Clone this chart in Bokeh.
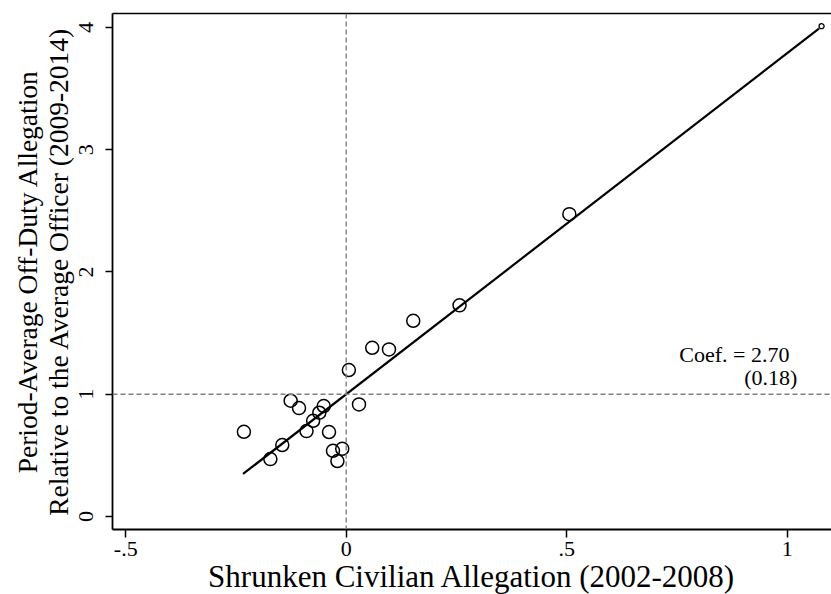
from bokeh.plotting import figure
from bokeh.models import Range1d, LinearAxis, FixedTicker, Span, ColumnDataSource
from bokeh.core.properties import value
from bokeh.embed import file_html
from bokeh.resources import INLINE

# Data
civ_x = [-0.232, -0.172, -0.145, -0.126, -0.107, -0.090, -0.075, -0.061, -0.051,
         -0.039, -0.030, -0.009, -0.020, 0.006, 0.029, 0.059, 0.097, 0.152,
         0.257, 0.506]
off_y = [0.693, 0.470, 0.585, 0.947, 0.887, 0.699, 0.783, 0.849, 0.904,
         0.691, 0.538, 0.554, 0.454, 1.198, 0.917, 1.380, 1.367, 1.601,
         1.727, 2.473]
small_x = [1.078]
small_y = [4.01]
fit_x = [-0.234, 1.072]
fit_y = [0.348, 3.99]

x_ticks = [-0.5, 0, 0.5, 1]
x_tick_labels = {-0.5: "-.5", 0: "0", 0.5: ".5", 1: "1"}
y_ticks = [0, 1, 2, 3, 4]
y_tick_labels = {0: "0", 1: "1", 2: "2", 3: "3", 4: "4"}

coef_text = ["Coef. = 2.70"]
se_text = ["(0.18)"]
coef_pos = ([1.005], [1.329])
se_pos = ([1.023], [1.141])

ref_x = 0
ref_y = 1

FONT = "Liberation Serif"

p = figure(frame_width=719, frame_height=516,
           x_range=Range1d(-0.530, 1.1005), y_range=Range1d(-0.106, 4.114),
           output_backend="svg", toolbar_location=None,
           min_border_left=112, min_border_top=13, min_border_right=0,
           min_border_bottom=65)
p.outline_line_color = None
p.grid.visible = False
p.background_fill_color = "white"
p.border_fill_color = "white"

# x axis
xa = p.xaxis[0]
xa.ticker = FixedTicker(ticks=x_ticks)
xa.major_label_overrides = x_tick_labels
xa.minor_tick_line_color = None
xa.major_tick_out = 8
xa.major_tick_in = 0
xa.major_tick_line_width = 1.5
xa.axis_line_width = 1.8
xa.major_label_text_font = FONT
xa.major_label_text_font_size = "22px"
xa.major_label_text_color = "black"
xa.major_label_standoff = 4
xa.axis_label = "Shrunken Civilian Allegation (2002-2008)"
xa.axis_label_text_font = FONT
xa.axis_label_text_font_size = "31px"
xa.axis_label_text_font_style = "normal"
xa.axis_label_text_color = "black"
xa.axis_label_standoff = 0

# y axis
ya = p.yaxis[0]
ya.ticker = FixedTicker(ticks=y_ticks)
ya.major_label_overrides = y_tick_labels
ya.minor_tick_line_color = None
ya.major_tick_out = 7
ya.major_tick_in = 0
ya.major_tick_line_width = 1.5
ya.axis_line_width = 1.8
ya.major_label_orientation = "vertical"
ya.major_label_text_font = FONT
ya.major_label_text_font_size = "22px"
ya.major_label_text_color = "black"
ya.major_label_standoff = 12
ya.axis_label = "Period-Average Off-Duty Allegation\nRelative to the Average Officer (2009-2014)"
ya.axis_label_text_font = FONT
ya.axis_label_text_font_size = "27.5px"
ya.axis_label_text_font_style = "normal"
ya.axis_label_text_color = "black"
ya.axis_label_text_line_height = 1.0
ya.axis_label_standoff = 3

# top border line
top = LinearAxis(major_tick_line_color=None, minor_tick_line_color=None,
                 major_label_text_font_size="0px", axis_line_width=1.5,
                 major_label_standoff=0, ticker=FixedTicker(ticks=[]))
p.add_layout(top, "above")

# reference lines
p.add_layout(Span(location=ref_x, dimension="height", line_color="#808080",
                  line_dash="5 3", line_width=1.4))
p.add_layout(Span(location=ref_y, dimension="width", line_color="#808080",
                  line_dash="5 3", line_width=1.4))

# fit line
p.line(fit_x, fit_y, line_color="black", line_width=2.2)

# points
src = ColumnDataSource(dict(x=civ_x, y=off_y))
p.scatter("x", "y", source=src, marker="circle", size=13, fill_color=None,
          line_color="black", line_width=1.5)
p.scatter(small_x, small_y, marker="circle", size=5, fill_color="white",
          line_color="black", line_width=1.3)

# coefficient annotation
p.text(x=coef_pos[0], y=coef_pos[1], text=coef_text, text_align="right",
       text_baseline="alphabetic", text_font=value(FONT), text_font_size="22px",
       text_color="black")
p.text(x=se_pos[0], y=se_pos[1], text=se_text, text_align="right",
       text_baseline="alphabetic", text_font=value(FONT), text_font_size="22px",
       text_color="black")

open("out.html", "w").write(file_html(p, INLINE))
